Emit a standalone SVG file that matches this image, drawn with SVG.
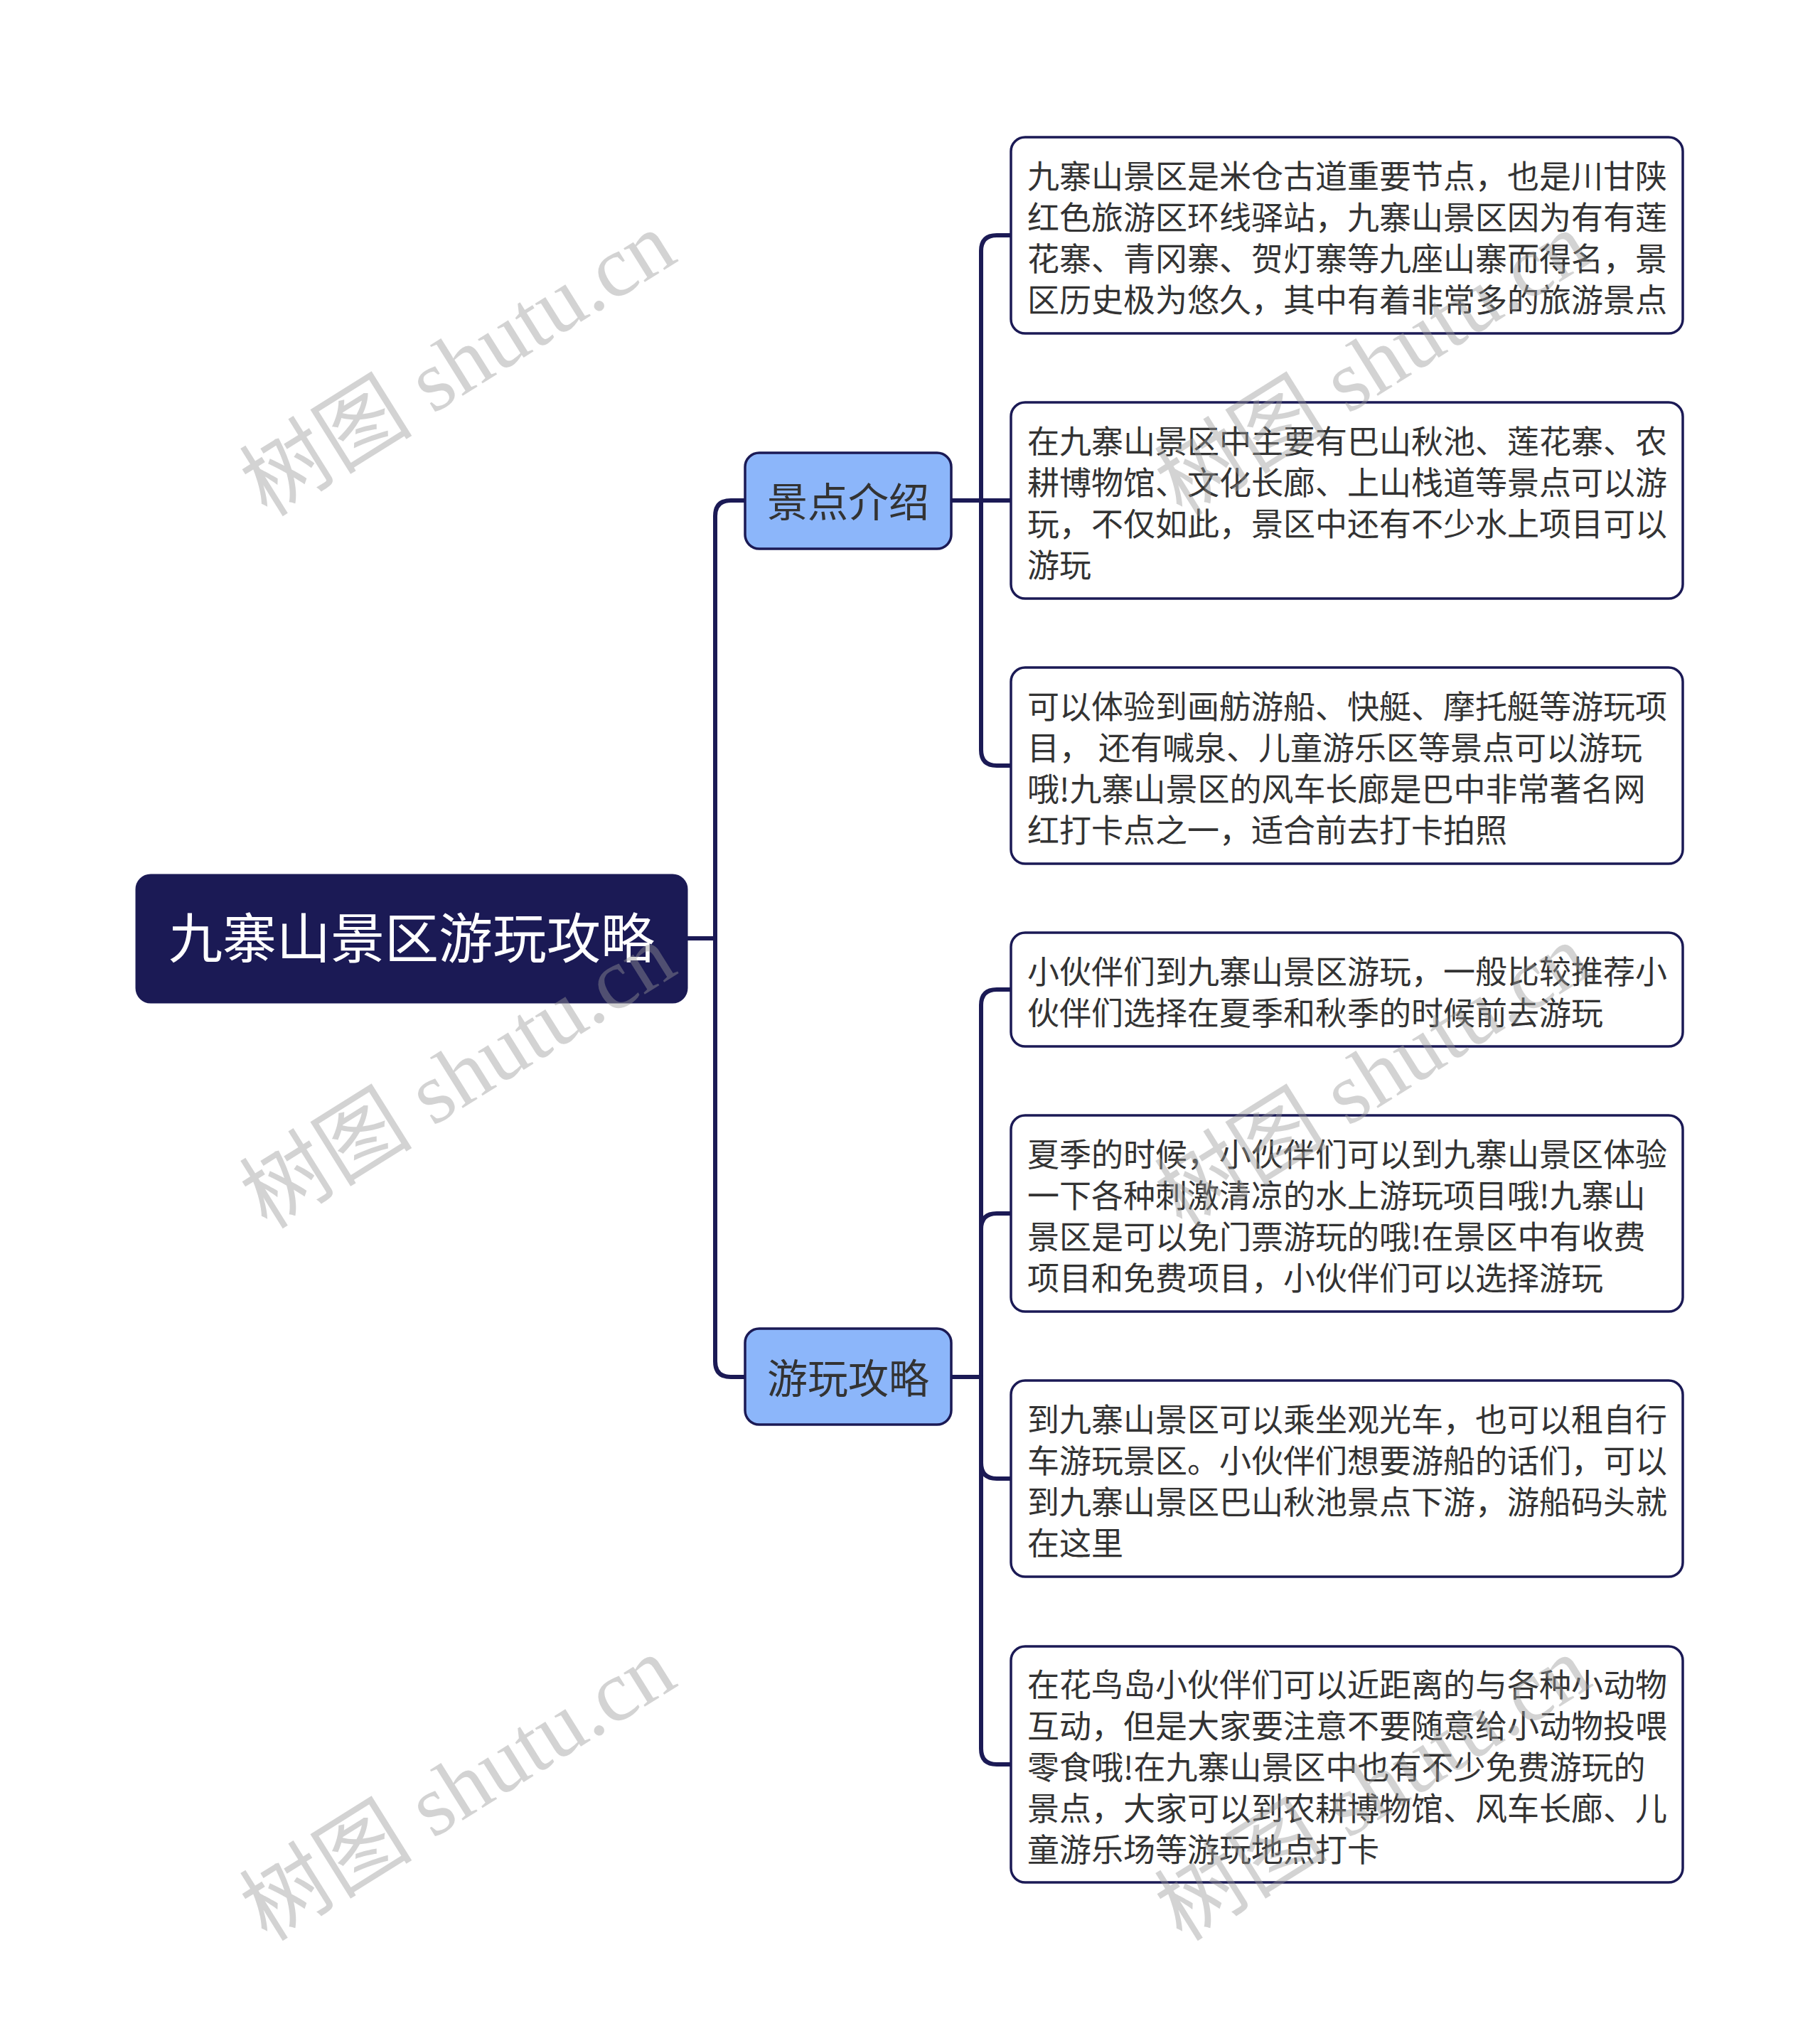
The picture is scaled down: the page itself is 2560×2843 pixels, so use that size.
<svg xmlns="http://www.w3.org/2000/svg" width="2560" height="2843" viewBox="0 0 2560 2843">
<style>
.conn{fill:none;stroke:#1b1a55;stroke-width:6;stroke-linejoin:round}
.root rect{fill:#1b1a55;stroke:#1b1a55;stroke-width:3}
.root text{fill:#ffffff;font-family:"Noto Sans CJK SC","Noto Sans",sans-serif;font-size:76px;text-anchor:middle}
.branch rect{fill:#8cb6fa;stroke:#1b1a55;stroke-width:3.5}
.branch text{fill:#333333;font-family:"Noto Sans CJK SC","Noto Sans",sans-serif;font-size:57px;text-anchor:middle}
.leaf rect{fill:#ffffff;stroke:#1b1a55;stroke-width:3.5}
.leaf text{fill:#333333;font-family:"Noto Sans CJK SC","Noto Sans",sans-serif;font-size:45px}
.wm{fill:#999999;opacity:0.42;font-family:"Liberation Serif","Noto Sans CJK SC",serif;font-size:122px;text-anchor:middle;dominant-baseline:central}
</style>
<rect width="2560" height="2843" fill="#ffffff"/>
<g id="connectors">
<path class="conn" d="M966,1320 H1006 V726 Q1006,704 1028,704 H1048"/>
<path class="conn" d="M966,1320 H1006 V1915 Q1006,1937 1028,1937 H1048"/>
<path class="conn" d="M1338,704 H1380 V353 Q1380,331 1402,331 H1422"/>
<path class="conn" d="M1338,704 H1422"/>
<path class="conn" d="M1338,704 H1380 V1055 Q1380,1077 1402,1077 H1422"/>
<path class="conn" d="M1338,1937 H1380 V1414 Q1380,1392 1402,1392 H1422"/>
<path class="conn" d="M1338,1937 H1380 V1729 Q1380,1707 1402,1707 H1422"/>
<path class="conn" d="M1338,1937 H1380 V2058 Q1380,2080 1402,2080 H1422"/>
<path class="conn" d="M1338,1937 H1380 V2460 Q1380,2482 1402,2482 H1422"/>
</g>
<g id="root" class="root">
<rect x="192" y="1231" width="774" height="179" rx="20"/>
<text x="579" y="1348">九寨山景区游玩攻略</text>
</g>
<g id="branch1" class="branch">
<rect x="1048" y="637" width="290" height="135" rx="20"/>
<text x="1193" y="727">景点介绍</text>
</g>
<g id="branch2" class="branch">
<rect x="1048" y="1869" width="290" height="135" rx="20"/>
<text x="1193" y="1960">游玩攻略</text>
</g>
<g id="leaf1" class="leaf">
<rect x="1422" y="193" width="945" height="276" rx="20"/>
<text x="1445" y="265">九寨山景区是米仓古道重要节点，也是川甘陕</text>
<text x="1445" y="323">红色旅游区环线驿站，九寨山景区因为有有莲</text>
<text x="1445" y="381">花寨、青冈寨、贺灯寨等九座山寨而得名，景</text>
<text x="1445" y="439">区历史极为悠久，其中有着非常多的旅游景点</text>
</g>
<g id="leaf2" class="leaf">
<rect x="1422" y="566" width="945" height="276" rx="20"/>
<text x="1445" y="638">在九寨山景区中主要有巴山秋池、莲花寨、农</text>
<text x="1445" y="696">耕博物馆、文化长廊、上山栈道等景点可以游</text>
<text x="1445" y="754">玩，不仅如此，景区中还有不少水上项目可以</text>
<text x="1445" y="812">游玩</text>
</g>
<g id="leaf3" class="leaf">
<rect x="1422" y="939" width="945" height="276" rx="20"/>
<text x="1445" y="1011">可以体验到画舫游船、快艇、摩托艇等游玩项</text>
<text x="1445" y="1069">目， 还有喊泉、儿童游乐区等景点可以游玩</text>
<text x="1445" y="1127">哦!九寨山景区的风车长廊是巴中非常著名网</text>
<text x="1445" y="1185">红打卡点之一，适合前去打卡拍照</text>
</g>
<g id="leaf4" class="leaf">
<rect x="1422" y="1312" width="945" height="160" rx="20"/>
<text x="1445" y="1384">小伙伴们到九寨山景区游玩，一般比较推荐小</text>
<text x="1445" y="1442">伙伴们选择在夏季和秋季的时候前去游玩</text>
</g>
<g id="leaf5" class="leaf">
<rect x="1422" y="1569" width="945" height="276" rx="20"/>
<text x="1445" y="1641">夏季的时候，小伙伴们可以到九寨山景区体验</text>
<text x="1445" y="1699">一下各种刺激清凉的水上游玩项目哦!九寨山</text>
<text x="1445" y="1757">景区是可以免门票游玩的哦!在景区中有收费</text>
<text x="1445" y="1815">项目和免费项目，小伙伴们可以选择游玩</text>
</g>
<g id="leaf6" class="leaf">
<rect x="1422" y="1942" width="945" height="276" rx="20"/>
<text x="1445" y="2014">到九寨山景区可以乘坐观光车，也可以租自行</text>
<text x="1445" y="2072">车游玩景区。小伙伴们想要游船的话们，可以</text>
<text x="1445" y="2130">到九寨山景区巴山秋池景点下游，游船码头就</text>
<text x="1445" y="2188">在这里</text>
</g>
<g id="leaf7" class="leaf">
<rect x="1422" y="2316" width="945" height="332" rx="20"/>
<text x="1445" y="2387">在花鸟岛小伙伴们可以近距离的与各种小动物</text>
<text x="1445" y="2445">互动，但是大家要注意不要随意给小动物投喂</text>
<text x="1445" y="2503">零食哦!在九寨山景区中也有不少免费游玩的</text>
<text x="1445" y="2561">景点，大家可以到农耕博物馆、风车长廊、儿</text>
<text x="1445" y="2619">童游乐场等游玩地点打卡</text>
</g>
<g id="watermarks">
<text class="wm" transform="translate(644,512) rotate(-32)">树图 shutu.cn</text>
<text class="wm" transform="translate(644,1514) rotate(-32)">树图 shutu.cn</text>
<text class="wm" transform="translate(644,2516) rotate(-32)">树图 shutu.cn</text>
<text class="wm" transform="translate(1931,512) rotate(-32)">树图 shutu.cn</text>
<text class="wm" transform="translate(1931,1514) rotate(-32)">树图 shutu.cn</text>
<text class="wm" transform="translate(1931,2516) rotate(-32)">树图 shutu.cn</text>
</g>
</svg>
